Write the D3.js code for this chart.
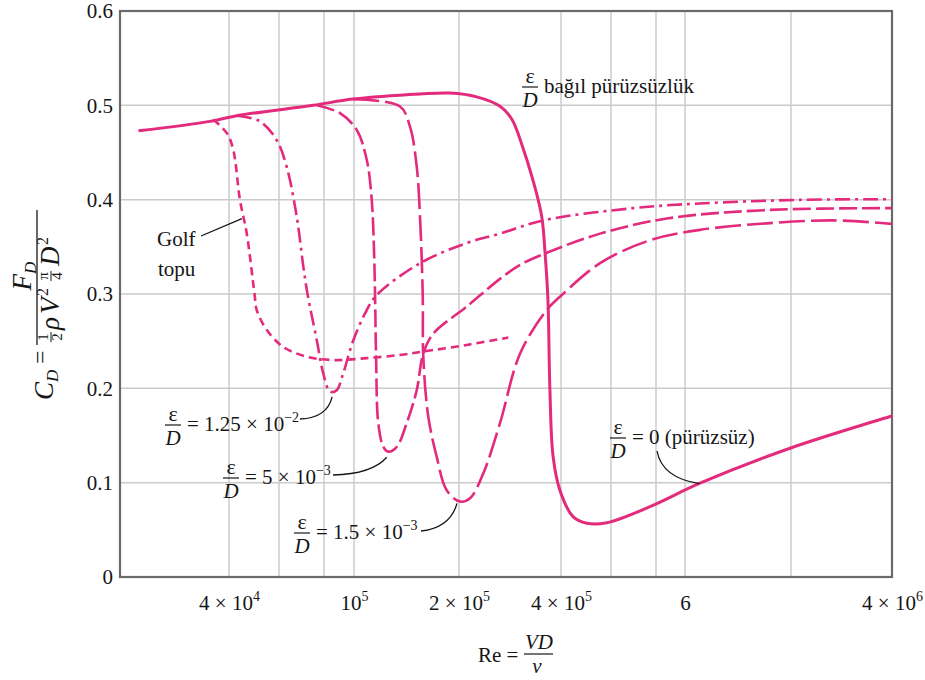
<!DOCTYPE html>
<html><head><meta charset="utf-8">
<script src="https://cdn.jsdelivr.net/npm/d3@7"></script>
<style>
body{margin:0;background:#fff;font-family:"Liberation Serif","Times New Roman",serif;}
svg{display:block;}
text{font-family:"Liberation Serif","Times New Roman",serif;}
</style></head><body>
<svg id="chart" width="925" height="680" font-family="Liberation Serif, Times New Roman, serif"></svg>
<script>
// ---------------- DATA ----------------
const xGridValues = [4e4, 6e4, 8e4, 1e5, 2e5, 4e5, 6e5, 8e5, 1e6, 2e6];
const xTickValues = [4e4, 1e5, 2e5, 4e5, 1e6, 4e6];
const xTickBase   = ["4 × 10", "10", "2 × 10", "4 × 10", "6", "4 × 10"];
const xTickExp    = ["4", "5", "5", "5", "", "6"];
const yTickValues = [0, 0.1, 0.2, 0.3, 0.4, 0.5, 0.6];
const yTickLabels = ["0", "0.1", "0.2", "0.3", "0.4", "0.5", "0.6"];

// [Re, C_D]
const smooth = [
  [1.92e4,0.473],[3.43e4,0.483],[4.26e4,0.489],[7.46e4,0.500],[9.93e4,0.5066],
  [1.546e5,0.512],[1.885e5,0.513],[2.256e5,0.509],[2.642e5,0.499],[2.867e5,0.485],
  [3.068e5,0.458],[3.31e5,0.420],[3.51e5,0.382],[3.59e5,0.343],[3.66e5,0.294],
  [3.71e5,0.198],[3.79e5,0.128],[3.97e5,0.092],[4.41e5,0.064],[4.93e5,0.057],
  [5.80e5,0.0576],[7.70e5,0.0746],[1.103e6,0.0994],[1.987e6,0.1365],[4.0e6,0.1707]
];
const golfBall = [
  [3.52e4,0.485],[3.93e4,0.4705],[4.14e4,0.453],[4.37e4,0.400],[4.62e4,0.364],
  [4.92e4,0.300],[5.01e4,0.283],[5.43e4,0.262],[6.16e4,0.244],[7.16e4,0.2336],
  [8.55e4,0.230],[1.088e5,0.232],[1.355e5,0.2354],[1.577e5,0.239],[2.107e5,0.246],
  [2.796e5,0.2538]
];
const rough125e2 = [
  [4.26e4,0.489],[5.14e4,0.483],[5.89e4,0.463],[6.30e4,0.435],[6.72e4,0.382],
  [7.01e4,0.329],[7.20e4,0.300],[7.64e4,0.251],[7.96e4,0.216],[8.37e4,0.1965],
  [8.79e4,0.198],[9.23e4,0.216],[9.95e4,0.251],[1.088e5,0.283],[1.162e5,0.299],
  [1.546e5,0.3326],[2.107e5,0.354],[2.642e5,0.364],[3.54e5,0.378],[6.91e5,0.391],
  [1.103e6,0.396],[2.127e6,0.3998],[4.0e6,0.4005]
];
const rough5e3 = [
  [7.64e4,0.500],[9.01e4,0.4917],[1.018e5,0.474],[1.088e5,0.442],[1.124e5,0.400],
  [1.141e5,0.347],[1.149e5,0.300],[1.157e5,0.2336],[1.174e5,0.163],[1.214e5,0.138],
  [1.254e5,0.1329],[1.326e5,0.138],[1.416e5,0.163],[1.513e5,0.198],[1.580e5,0.237],
  [1.688e5,0.258],[2.107e5,0.2866],[2.642e5,0.316],[3.03e5,0.331],
  [3.59e5,0.343],[5.49e5,0.364],[8.69e5,0.380],[1.706e6,0.389],[4.0e6,0.391]
];
const rough15e3 = [
  [9.93e4,0.5066],[1.355e5,0.4987],[1.447e5,0.4775],[1.513e5,0.435],[1.546e5,0.382],
  [1.574e5,0.300],[1.580e5,0.2336],[1.633e5,0.170],[1.726e5,0.1276],[1.844e5,0.092],
  [2.014e5,0.080],[2.156e5,0.0835],[2.36e5,0.110],[2.642e5,0.163],[3.03e5,0.237],
  [3.63e5,0.283],[3.97e5,0.297],[5.49e5,0.3327],[7.70e5,0.357],[1.103e6,0.368],
  [1.706e6,0.3749],[2.669e6,0.378],[4.0e6,0.3743]
];

// ---------------- LAYOUT ----------------
const FONT = "Liberation Serif, Times New Roman, serif";
const L = 120, R = 892, T = 11, B = 577;
const pink = "#e42a7d";
const ink = "#161616";
// hand-drawn log axis of the original: piecewise log scale through its grid lines
const xKnots = xGridValues.concat([4e6]);
const xKnotPx = [229, 279, 324, 354, 459, 561, 611, 656, 685, 791, 892];
const x = d3.scaleLog().domain(xKnots).range(xKnotPx);
const y = d3.scaleLinear().domain([0, 0.6]).range([B, T]);

const svg = d3.select("#chart");

// grid
const grid = svg.append("g").attr("stroke", "#cbcbcb").attr("stroke-width", 1.5);
grid.selectAll("line.v").data(xGridValues).join("line")
  .attr("x1", d => x(d)).attr("x2", d => x(d)).attr("y1", T).attr("y2", B);
grid.selectAll("line.h").data(yTickValues.slice(1, -1)).join("line")
  .attr("x1", L).attr("x2", R).attr("y1", d => y(d)).attr("y2", d => y(d));

// axes labels
const xAxis = d3.axisBottom(x).tickValues(xTickValues).tickSize(0).tickPadding(0).tickFormat(() => "");
const gx = svg.append("g").attr("transform", `translate(0,${B})`).call(xAxis);
gx.select(".domain").remove();
gx.attr("font-size", 21).attr("font-family", FONT);
gx.selectAll(".tick text").attr("fill", ink).attr("dy", null).attr("y", 33)
  .each(function(d, i) {
    const t = d3.select(this);
    t.append("tspan").text(xTickBase[i]);
    if (xTickExp[i]) t.append("tspan").attr("font-size", 14).attr("dy", -9).text(xTickExp[i]);
  });

const yAxis = d3.axisLeft(y).tickValues(yTickValues).tickSize(0).tickPadding(7)
  .tickFormat((d, i) => yTickLabels[i]);
const gy = svg.append("g").attr("transform", `translate(${L},0)`).call(yAxis);
gy.select(".domain").remove();
gy.attr("font-size", 21).attr("font-family", FONT);
gy.selectAll(".tick text").attr("fill", ink);

// frame
svg.append("rect").attr("x", L).attr("y", T).attr("width", R - L).attr("height", B - T)
  .attr("fill", "none").attr("stroke", "#6a6a6a").attr("stroke-width", 2.2);

// curves
const line = d3.line().x(d => x(d[0])).y(d => y(d[1])).curve(d3.curveCatmullRom.alpha(0.5));
const series = [
  {data: smooth, dash: null, w: 3},
  {data: golfBall, dash: "8,5", w: 2.6},
  {data: rough125e2, dash: "15,5,3,5", w: 2.6},
  {data: rough5e3, dash: "18,5", w: 2.6},
  {data: rough15e3, dash: "26,6", w: 2.6}
];
svg.append("g").selectAll("path").data(series).join("path")
  .attr("d", d => line(d.data)).attr("fill", "none").attr("stroke", pink)
  .attr("stroke-width", d => d.w).attr("stroke-dasharray", d => d.dash)
  .attr("stroke-linecap", "butt").attr("stroke-linejoin", "round");

// annotations
const ann = svg.append("g").attr("fill", ink).attr("font-family", FONT);
function epsD(cx, base) {
  ann.append("text").attr("x", cx).attr("y", base - 10).attr("text-anchor", "middle")
    .attr("font-size", 22).text("ε");
  ann.append("line").attr("x1", cx - 8).attr("x2", cx + 8).attr("y1", base - 6).attr("y2", base - 6)
    .attr("stroke", ink).attr("stroke-width", 1.2);
  ann.append("text").attr("x", cx).attr("y", base + 14).attr("text-anchor", "middle")
    .attr("font-size", 21).attr("font-style", "italic").text("D");
}
function label(x0, base, main, sup) {
  const t = ann.append("text").attr("x", x0).attr("y", base).attr("font-size", 21);
  t.append("tspan").text(main);
  if (sup) t.append("tspan").attr("font-size", 14).attr("dy", -9).text(sup);
}
function leader(dstr) {
  ann.append("path").attr("d", dstr).attr("fill", "none").attr("stroke", ink).attr("stroke-width", 1.3);
}

// relative roughness title
epsD(530, 93); label(544, 93, "bağıl pürüzsüzlük");
// golf ball
ann.append("text").attr("x", 157).attr("y", 246).attr("font-size", 21).text("Golf");
ann.append("text").attr("x", 158).attr("y", 276).attr("font-size", 21).text("topu");
leader(`M201,236 L${x(4.37e4) + 2},${y(0.38)}`);
// 1.25e-2
epsD(173, 431); label(187, 431, "= 1.25 × 10", "−2");
leader(`M300,419 Q327,418 ${x(8.5e4)},${y(0.191)}`);
// 5e-3
epsD(231, 484); label(245, 484, "= 5 × 10", "−3");
leader(`M333,475 Q372,474 ${x(1.25e5) - 1},${y(0.127)}`);
// 1.5e-3
epsD(302, 539); label(316, 539, "= 1.5 × 10", "−3");
leader(`M421,531 Q450,528 ${x(2.0e5) - 2},${y(0.078)}`);
// smooth
epsD(618, 444); label(632, 444, "= 0 (pürüzsüz)");
leader(`M657,451 Q662,478 ${x(1.1e6)},${y(0.099)}`);

// x-axis title
const xt = svg.append("g").attr("fill", ink).attr("font-size", 21).attr("font-family", FONT);
xt.append("text").attr("x", 478).attr("y", 662).text("Re =");
xt.append("line").attr("x1", 524).attr("x2", 553).attr("y1", 654).attr("y2", 654)
  .attr("stroke", ink).attr("stroke-width", 1.2);
xt.append("text").attr("x", 539).attr("y", 649).attr("text-anchor", "middle").attr("font-style", "italic").text("VD");
xt.append("text").attr("x", 537).attr("y", 673).attr("text-anchor", "middle").attr("font-style", "italic").text("ν");

// y-axis title (rotated; local u = -pageY, v = pageX)
const yt = svg.append("g").attr("transform", "rotate(-90)").attr("fill", ink).attr("font-family", FONT);
const cT = yt.append("text").attr("x", -400).attr("y", 53).attr("font-size", 27).attr("font-style", "italic");
cT.append("tspan").text("C");
cT.append("tspan").attr("font-size", 17).attr("dy", 5).text("D");
yt.append("text").attr("x", -364).attr("y", 48).attr("font-size", 24).text("=");
yt.append("line").attr("x1", -345).attr("x2", -210).attr("y1", 37).attr("y2", 37)
  .attr("stroke", ink).attr("stroke-width", 1.3);
const fT = yt.append("text").attr("x", -276).attr("y", 31).attr("text-anchor", "middle")
  .attr("font-size", 27).attr("font-style", "italic");
fT.append("tspan").text("F");
fT.append("tspan").attr("font-size", 17).attr("dy", 5).text("D");
function smallFrac(cu, top, bot) {
  yt.append("text").attr("x", cu).attr("y", 48).attr("text-anchor", "middle").attr("font-size", 15).text(top);
  yt.append("line").attr("x1", cu - 5).attr("x2", cu + 5).attr("y1", 51).attr("y2", 51)
    .attr("stroke", ink).attr("stroke-width", 1);
  yt.append("text").attr("x", cu).attr("y", 62).attr("text-anchor", "middle").attr("font-size", 15).text(bot);
}
smallFrac(-337, "1", "2");
yt.append("text").attr("x", -330).attr("y", 59).attr("font-size", 27).attr("font-style", "italic").text("ρ");
yt.append("text").attr("x", -314).attr("y", 59).attr("font-size", 27).attr("font-style", "italic").text("V");
yt.append("text").attr("x", -296).attr("y", 48).attr("font-size", 16).text("2");
smallFrac(-276, "π", "4");
yt.append("text").attr("x", -266).attr("y", 59).attr("font-size", 27).attr("font-style", "italic").text("D");
yt.append("text").attr("x", -245).attr("y", 48).attr("font-size", 16).text("2");
</script>
</body></html>
